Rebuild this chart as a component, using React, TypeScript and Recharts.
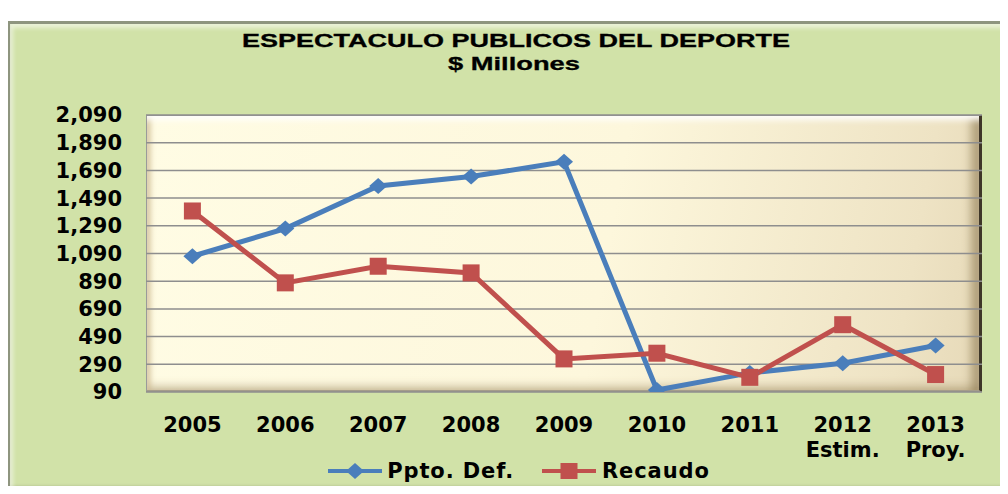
import React from 'react';
import {
  LineChart,
  Line,
  XAxis,
  YAxis,
  CartesianGrid,
  Legend,
} from 'recharts';

// values
const years = ['2005', '2006', '2007', '2008', '2009', '2010', '2011', '2012', '2013'];
const yearNotes = ['', '', '', '', '', '', '', 'Estim.', 'Proy.'];
const pptoDef = [1070, 1270, 1578, 1646, 1752, 104, 228, 298, 426];
const recaudo = [1397, 878, 998, 950, 329, 370, 196, 576, 216];
const yTicks = [90, 290, 490, 690, 890, 1090, 1290, 1490, 1690, 1890, 2090];

const BLUE = '#4A7EBB';
const RED = '#C0504D';
const TICK_FONT = '"DejaVu Sans", Verdana, sans-serif';

const chartData = years.map((year, i) => ({
  year,
  note: yearNotes[i],
  ppto: pptoDef[i],
  recaudo: recaudo[i],
}));

const Diamond = (props: any) => {
  const { cx, cy, index } = props;
  if (cx == null || cy == null) return <g key={`d-${index}`} />;
  return (
    <polygon
      key={`d-${index}`}
      points={`${cx - 9},${cy} ${cx},${cy - 8} ${cx + 9},${cy} ${cx},${cy + 8}`}
      fill={BLUE}
    />
  );
};

const Square = (props: any) => {
  const { cx, cy, index } = props;
  if (cx == null || cy == null) return <g key={`s-${index}`} />;
  return <rect key={`s-${index}`} x={cx - 8.5} y={cy - 8.5} width={17} height={17} fill={RED} />;
};

const YearTick = (props: any) => {
  const { x, y, payload } = props;
  const note = yearNotes[years.indexOf(payload.value)];
  return (
    <text
      x={x}
      y={y + 40}
      textAnchor="middle"
      fill="#000"
      fontFamily={TICK_FONT}
      fontWeight="bold"
      fontSize={21}
    >
      <tspan x={x}>{payload.value}</tspan>
      {note ? (
        <tspan x={x} dy={25}>
          {note}
        </tspan>
      ) : null}
    </text>
  );
};

const LegendIcon = ({ color, square }: { color: string; square: boolean }) => (
  <svg width={54} height={20} style={{ display: 'block' }}>
    <line x1={0} y1={10} x2={54} y2={10} stroke={color} strokeWidth={4} />
    {square ? (
      <rect x={18.5} y={2} width={17} height={16} fill={color} />
    ) : (
      <polygon points="18,10 27,2 36,10 27,18" fill={color} />
    )}
  </svg>
);

const renderLegend = () => (
  <div
    style={{
      display: 'flex',
      justifyContent: 'center',
      alignItems: 'center',
      paddingLeft: 30,
      height: 30,
      fontFamily: TICK_FONT,
      fontWeight: 'bold',
      fontSize: 21,
      letterSpacing: 0.9,
      color: '#000',
    }}
  >
    <LegendIcon color={BLUE} square={false} />
    <span style={{ marginLeft: 5, marginRight: 28 }}>Ppto. Def.</span>
    <LegendIcon color={RED} square={true} />
    <span style={{ marginLeft: 6 }}>Recaudo</span>
  </div>
);

const App = () => {
  return (
    <div
      style={{
        position: 'relative',
        width: 1008,
        height: 494,
        margin: -8,
        background: '#fff',
        overflow: 'hidden',
      }}
    >
      {/* green chart frame */}
      <div
        style={{
          position: 'absolute',
          left: 7,
          top: 21,
          width: 1020,
          height: 465,
          background: '#D1E2A8',
          border: '3px solid #8E957F',
          boxShadow:
            'inset 3px 4px 4px rgba(255,255,255,0.55), inset 0 -3px 3px rgba(110,120,90,0.35)',
        }}
      />
      {/* plot area panel */}
      <div
        style={{
          position: 'absolute',
          left: 146,
          top: 115,
          width: 836,
          height: 277,
          boxSizing: 'border-box',
          background: 'linear-gradient(100deg, #FFFCE4 0%, #FDF7DC 55%, #EEE3C4 90%, #E6D9B8 100%)',
          borderLeft: '1px solid #9A9A9A',
          borderTop: '1px solid #9A9A9A',
          borderRight: '3px solid #3E3628',
          borderBottom: '2px solid #A59D8A',
          boxShadow:
            'inset 0 8px 6px -4px rgba(255,255,255,0.95), inset 7px 0 5px -3px rgba(205,185,145,0.7), inset -14px 0 8px -6px rgba(140,120,80,0.6), inset 0 -10px 8px -6px rgba(160,140,100,0.5)',
        }}
      />
      <svg
        width={1008}
        height={100}
        style={{ position: 'absolute', left: 0, top: 0 }}
      >
        <text
          x={242}
          y={47}
          textLength={548}
          lengthAdjust="spacingAndGlyphs"
          fontFamily='"Liberation Sans", Arial, sans-serif'
          fontWeight="bold"
          fontSize={19}
          stroke="#000"
          strokeWidth={0.3}
          fill="#000"
        >
          ESPECTACULO PUBLICOS DEL DEPORTE
        </text>
        <text
          x={448}
          y={70}
          textLength={132}
          lengthAdjust="spacingAndGlyphs"
          fontFamily='"Liberation Sans", Arial, sans-serif'
          fontWeight="bold"
          fontSize={19}
          stroke="#000"
          strokeWidth={0.3}
          fill="#000"
        >
          $ Millones
        </text>
      </svg>
      <div style={{ position: 'absolute', left: 0, top: 0 }}>
        <LineChart
          width={1008}
          height={494}
          data={chartData}
          margin={{ top: 115, right: 26, left: 16, bottom: 8 }}
        >
          <CartesianGrid vertical={false} stroke="#8E8E8E" strokeWidth={1.5} />
          <XAxis
            dataKey="year"
            axisLine={false}
            tickLine={false}
            tickSize={0}
            tickMargin={0}
            height={64}
            padding={{ left: 46.4, right: 46.4 }}
            tick={<YearTick />}
            interval={0}
          />
          <YAxis
            domain={[90, 2090]}
            ticks={yTicks}
            interval={0}
            width={130}
            axisLine={false}
            tickLine={false}
            tickSize={0}
            tickMargin={24}
            tickFormatter={(v: number) => v.toLocaleString('en-US')}
            tick={{ fill: '#000', fontFamily: TICK_FONT, fontWeight: 'bold', fontSize: 21 }}
            allowDataOverflow
          />
          <Legend
            verticalAlign="bottom"
            content={renderLegend}
            wrapperStyle={{ left: 0, width: 1008, height: 30 }}
          />
          <Line
            dataKey="ppto"
            name="Ppto. Def."
            stroke={BLUE}
            strokeWidth={5}
            dot={Diamond}
            activeDot={false}
            isAnimationActive={false}
          />
          <Line
            dataKey="recaudo"
            name="Recaudo"
            stroke={RED}
            strokeWidth={5}
            dot={Square}
            activeDot={false}
            isAnimationActive={false}
          />
        </LineChart>
      </div>
    </div>
  );
};

export default App;
